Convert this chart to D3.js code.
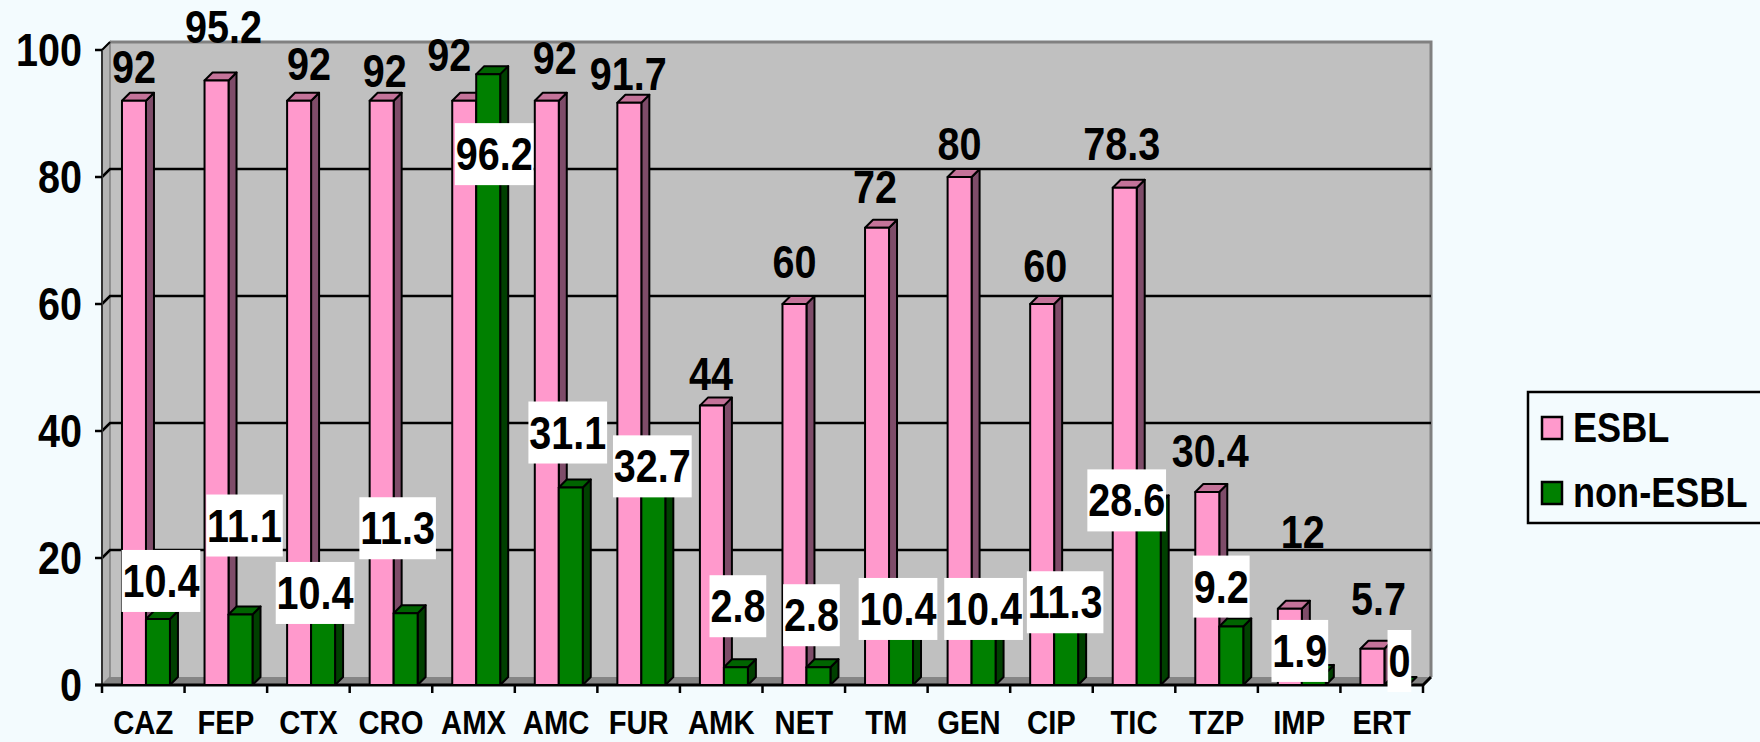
<!DOCTYPE html>
<html>
<head>
<meta charset="utf-8">
<script src="https://cdn.jsdelivr.net/npm/d3@7"></script>
<style>
  html, body { margin: 0; padding: 0; background: #F3FBFE; }
  svg { display: block; }
  text { font-family: "Liberation Sans", Arial, sans-serif; font-weight: bold; fill: #000; }
</style>
</head>
<body>
<div class="chart"></div>
<script>
var categories = ["CAZ", "FEP", "CTX", "CRO", "AMX", "AMC", "FUR", "AMK", "NET", "TM", "GEN", "CIP", "TIC", "TZP", "IMP", "ERT"];
var esblValues = [92, 95.2, 92, 92, 92, 92, 91.7, 44, 60, 72, 80, 60, 78.3, 30.4, 12, 5.7];
var nonEsblValues = [10.4, 11.1, 10.4, 11.3, 96.2, 31.1, 32.7, 2.8, 2.8, 10.4, 10.4, 11.3, 28.6, 9.2, 1.9, 0];
var seriesNames = ["ESBL", "non-ESBL"];
var yTickValues = [0, 20, 40, 60, 80, 100];

// labels were dragged by hand in the original, these are the pixel nudges
var esblNudge = [[0, 2], [7, -17], [10, -1], [3, 6], [-15, -10], [8, -7], [-1, 7], [-1, 4],
                 [0, -6], [-2, -5], [0, 3], [3, -2], [-3, -8], [3, -5], [13, -41], [6, -14]];
var nonEsblNudge = [[3, -7], [4, -58], [-8, 5], [-8, -54], [6, 111], [-3, -24], [-1, 20], [2, -30],
                    [-7, -21], [-3, 21], [0, 21], [-1, 20], [-22, 28], [-10, -9], [-14, 9], [3, 7]];

(function() {
  var width = 1760
    , height = 742
    , left = 102
    , right = 1423
    , bottom = 685
    , top = 50
    , depthX = 8
    , depthY = 8
    , narrow = 0.86
    , colors = {
        ESBL: { front: "#FF99CC", top: "#C47399", side: "#7E4C69" },
        "non-ESBL": { front: "#008000", top: "#006400", side: "#004000" }
      }
    ;

  var x = d3.scaleBand().domain(categories).range([left, right]).padding(0)
    , bw = x.bandwidth()
    , xs = d3.scaleBand().domain(seriesNames).range([bw * 0.242, bw * 0.823]).padding(0)
    , y = d3.scaleLinear().domain([0, 100]).range([bottom, top]);

  var svg = d3.select(".chart").append("svg")
    .attr("width", width)
    .attr("height", height);

  svg.append("rect").attr("width", width).attr("height", height).attr("fill", "#F3FBFE");

  // back wall
  svg.append("rect")
    .attr("x", left + depthX).attr("y", y(100) - depthY)
    .attr("width", right - left).attr("height", y(0) - y(100))
    .attr("fill", "#C0C0C0");
  svg.append("path")
    .attr("d", "M" + (left + depthX) + "," + (y(100) - depthY) + "H" + (right + depthX) + "V" + (y(0) - depthY))
    .attr("fill", "none").attr("stroke", "#808080").attr("stroke-width", 3);

  // side wall
  svg.append("path")
    .attr("d", "M" + left + "," + y(100) + "L" + (left + depthX) + "," + (y(100) - depthY) +
      "V" + (y(0) - depthY) + "L" + left + "," + y(0) + "Z")
    .attr("fill", "#B4B4B4").attr("stroke", "#808080").attr("stroke-width", 1.5);

  // floor
  svg.append("path")
    .attr("d", "M" + left + "," + y(0) + "H" + right + "L" + (right + depthX) + "," + (y(0) - depthY) +
      "H" + (left + depthX) + "Z")
    .attr("fill", "#858585");

  // gridlines
  svg.append("g").selectAll("path")
    .data(yTickValues.filter(d => d > 0 && d < 100))
    .enter().append("path")
      .attr("d", d => "M" + left + "," + y(d) + "L" + (left + depthX) + "," + (y(d) - depthY) + "H" + (right + depthX))
      .attr("fill", "none").attr("stroke", "#000").attr("stroke-width", 2.5);
  svg.append("path")
    .attr("d", "M" + left + "," + y(100) + "L" + (left + depthX) + "," + (y(100) - depthY))
    .attr("stroke", "#000").attr("stroke-width", 2);

  // axes
  svg.append("line")
    .attr("x1", left).attr("x2", left).attr("y1", y(100)).attr("y2", y(0))
    .attr("stroke", "#333").attr("stroke-width", 2);
  svg.append("g").selectAll("line")
    .data(yTickValues)
    .enter().append("line")
      .attr("x1", left - 7).attr("x2", left)
      .attr("y1", d => y(d)).attr("y2", d => y(d))
      .attr("stroke", "#000").attr("stroke-width", 2.5);
  svg.append("path")
    .attr("d", "M" + (left - 7) + "," + y(0) + "H" + right + "L" + (right + depthX) + "," + (y(0) - depthY))
    .attr("fill", "none").attr("stroke", "#000").attr("stroke-width", 3);
  svg.append("g").selectAll("line")
    .data(d3.range(categories.length + 1))
    .enter().append("line")
      .attr("x1", i => left + i * bw).attr("x2", i => left + i * bw)
      .attr("y1", y(0)).attr("y2", y(0) + 8)
      .attr("stroke", "#000").attr("stroke-width", 2.5);

  svg.append("g").selectAll("text")
    .data(yTickValues)
    .enter().append("text")
      .attr("transform", d => "translate(82," + (y(d) + 16) + ") scale(" + narrow + ",1)")
      .attr("text-anchor", "end")
      .attr("font-size", 46)
      .text(d => d);

  svg.append("g").selectAll("text")
    .data(categories)
    .enter().append("text")
      .attr("transform", d => "translate(" + (x(d) + bw / 2) + ",734) scale(" + narrow + ",1)")
      .attr("text-anchor", "middle")
      .attr("font-size", 34)
      .text(d => d);

  // bars
  var barData = [];
  categories.forEach((c, i) => {
    barData.push({ cat: c, i: i, series: "ESBL", value: esblValues[i] });
    barData.push({ cat: c, i: i, series: "non-ESBL", value: nonEsblValues[i] });
  });

  var gBar = svg.append("g")
    .attr("stroke", "#000").attr("stroke-width", 2).attr("stroke-linejoin", "round");

  barData.forEach(d => {
    var x0 = x(d.cat) + xs(d.series)
      , w = xs.bandwidth()
      , yT = y(d.value)
      , y0 = y(0)
      , c = colors[d.series]
      , g = gBar.append("g");

    g.append("path")
      .attr("d", "M" + (x0 + w) + "," + yT + "L" + (x0 + w + depthX) + "," + (yT - depthY) +
        "V" + (y0 - depthY) + "L" + (x0 + w) + "," + y0 + "Z")
      .attr("fill", c.side);
    g.append("path")
      .attr("d", "M" + x0 + "," + yT + "L" + (x0 + depthX) + "," + (yT - depthY) +
        "H" + (x0 + w + depthX) + "L" + (x0 + w) + "," + yT + "Z")
      .attr("fill", c.top);
    g.append("rect")
      .attr("x", x0).attr("y", yT).attr("width", w).attr("height", y0 - yT)
      .attr("fill", c.front);
  });

  // ESBL labels, no background
  svg.append("g").selectAll("text")
    .data(esblValues)
    .enter().append("text")
      .attr("transform", (d, i) => {
        var cx = x(categories[i]) + xs("ESBL") + xs.bandwidth() / 2 + esblNudge[i][0]
          , by = y(d) - 20 + esblNudge[i][1];
        return "translate(" + cx + "," + by + ") scale(" + narrow + ",1)";
      })
      .attr("text-anchor", "middle")
      .attr("font-size", 46)
      .text(d => d);

  // non-ESBL labels on white boxes
  var gNon = svg.append("g").selectAll("g")
    .data(nonEsblValues)
    .enter().append("g")
      .attr("transform", (d, i) => {
        var cx = x(categories[i]) + xs("non-ESBL") + xs.bandwidth() / 2 + nonEsblNudge[i][0]
          , cy = y(d) - 30 + nonEsblNudge[i][1];
        return "translate(" + cx + "," + (cy + 15) + ") scale(" + narrow + ",1)";
      });

  gNon.append("rect").attr("fill", "#FFFFFF");
  gNon.append("text")
    .attr("text-anchor", "middle")
    .attr("font-size", 46)
    .text(d => d);
  gNon.each(function() {
    var g = d3.select(this)
      , len = g.select("text").node().getComputedTextLength();
    g.select("rect")
      .attr("x", -len / 2 - 1).attr("width", len + 2)
      .attr("y", -47).attr("height", 62);
  });

  // legend
  var gKey = svg.append("g");
  gKey.append("rect")
    .attr("x", 1528).attr("y", 392).attr("width", 260).attr("height", 131)
    .attr("fill", "#F3FBFE").attr("stroke", "#000").attr("stroke-width", 2.5);
  seriesNames.forEach((s, i) => {
    gKey.append("rect")
      .attr("x", 1542).attr("y", 417 + i * 65).attr("width", 20).attr("height", 22)
      .attr("fill", colors[s].front).attr("stroke", "#000").attr("stroke-width", 2.5);
    gKey.append("text")
      .attr("transform", "translate(1573," + (442 + i * 65) + ") scale(" + narrow + ",1)")
      .attr("font-size", 42)
      .text(s);
  });
})();
</script>
</body>
</html>
